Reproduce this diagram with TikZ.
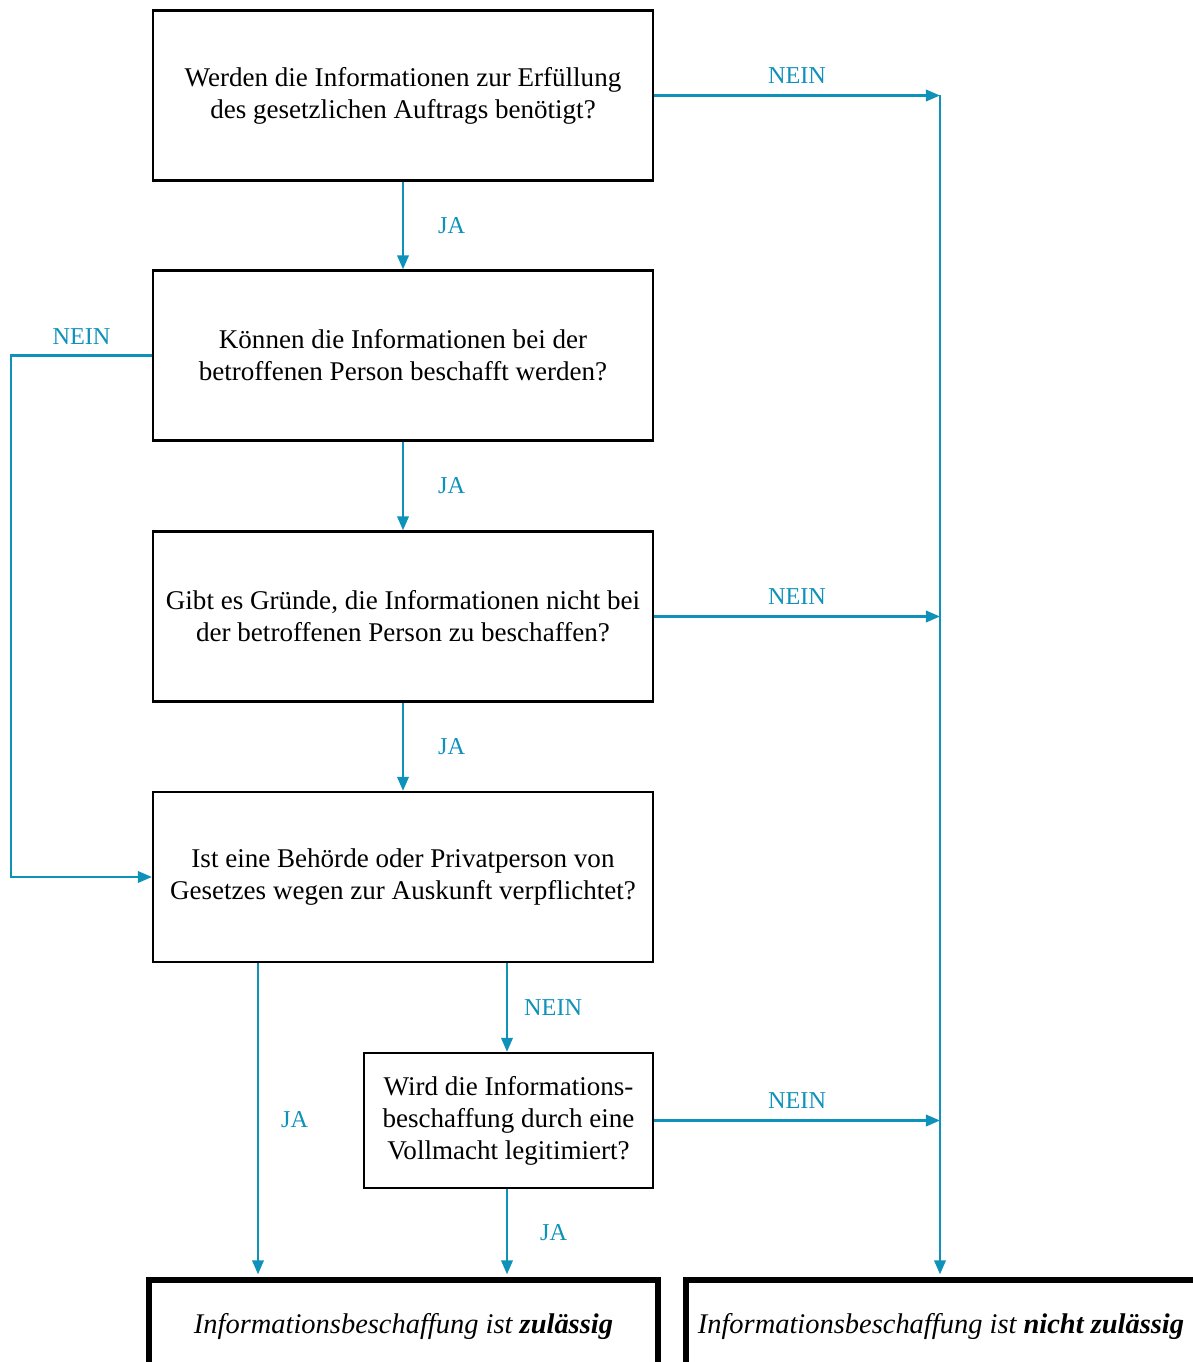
\documentclass[tikz,border=0pt]{standalone}
\usepackage{fontspec}
\setmainfont{Liberation Serif}
\usetikzlibrary{arrows.meta}
\definecolor{flowteal}{RGB}{14,146,186}
\tikzstyle{question}=[draw, line width=1.3pt, align=center, minimum width=10cm, minimum height=3.4cm, font=\fontsize{15.4}{18.2}\selectfont]
\tikzstyle{small question}=[question, minimum width=5.78cm, minimum height=2.7cm]
\tikzstyle{outcome}=[draw, line width=3.4pt, minimum height=1.84cm, font=\fontsize{16.2}{18.2}\selectfont\itshape]
\tikzstyle{flow}=[draw=flowteal, line width=1.35pt, -{Triangle[length=8pt, width=6.5pt]}]
\tikzstyle{answer}=[text=flowteal, inner sep=0pt, font=\fontsize{13.8}{16}\selectfont]

\begin{document}
\begin{tikzpicture}[x=0.02cm, y=-0.02cm]
    \clip (0,0) rectangle (1193,1362);
% Questions
    \node[question] (q1) at (403,95.5) {Werden die Informationen zur Erfüllung\\des gesetzlichen Auftrags benötigt?};
    \node[question] (q2) at (403,355.5) {Können die Informationen bei der\\betroffenen Person beschafft werden?};
    \node[question] (q3) at (403,616.5) {Gibt es Gründe, die Informationen nicht bei\\der betroffenen Person zu beschaffen?};
    \node[question] (q4) at (403,877) {Ist eine Behörde oder Privatperson von\\Gesetzes wegen zur Auskunft verpflichtet?};
    \node[small question] (q5) at (508.5,1120.5) {Wird die Informations-\\beschaffung durch eine\\Vollmacht legitimiert?};
%Outcomes
    \node[outcome, minimum width=10.18cm] (ok) at (403.5,1326) {Informationsbeschaffung ist \textbf{zulässig}};
    \node[outcome, minimum width=10.2cm] (nok) at (941,1326) {Informationsbeschaffung ist \textbf{nicht zulässig}};
%Rails
    \coordinate (rail) at (940,0);
    \coordinate (lrail) at (11,0);
    \coordinate (okx) at (258,0);
    \coordinate (nox) at (507,0);
%JA paths
    \draw[flow] (q1) -- node[answer, right=0.68cm] {JA} (q2);
    \draw[flow] (q2) -- node[answer, right=0.68cm] {JA} (q3);
    \draw[flow] (q3) -- node[answer, right=0.68cm] {JA} (q4);
    \draw[flow, shorten >=1.5pt] (okx |- q4.south) -- node[answer, right=0.44cm] {JA} (okx |- ok.north);
    \draw[flow, shorten >=1.5pt] (nox |- q5.south) -- node[answer, right=0.64cm] {JA} (nox |- ok.north);
%NEIN paths
    \draw[flow] (q1.east) -- node[answer, above=0.22cm] {NEIN} (q1.east -| rail);
    \draw[flow] (q3.east) -- node[answer, above=0.22cm] {NEIN} (q3.east -| rail);
    \draw[flow] (q5.east) -- node[answer, above=0.22cm] {NEIN} (q5.east -| rail);
    \draw[flow, shorten >=1.5pt] (rail |- q1.east) -- (rail |- nok.north);
    \draw[flow] (q2.west) -- node[answer, above=0.2cm] {NEIN} (q2.west -| lrail) -- (lrail |- q4.west) -- (q4.west);
    \draw[flow] (nox |- q4.south) -- node[answer, right=0.32cm] {NEIN} (nox |- q5.north);
\end{tikzpicture}
\end{document}
